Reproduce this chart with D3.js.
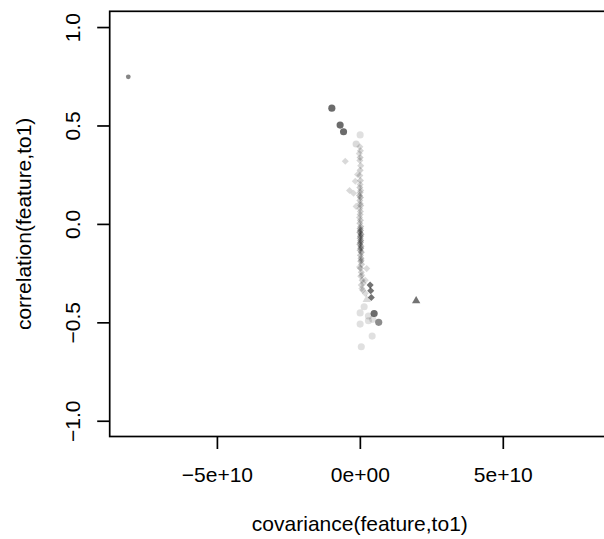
<!DOCTYPE html>
<html>
<head>
<meta charset="utf-8">
<script src="https://cdn.jsdelivr.net/npm/d3@7"></script>
<style>
  html, body { margin: 0; padding: 0; background: #fff; }
  svg { display: block; }
  text { font-family: "Liberation Sans", Arial, Helvetica, sans-serif; }
</style>
</head>
<body>
<svg id="chart" width="604" height="539"></svg>
<script>
// ---- data (covariance in raw units, correlation) ----
const covariance = [
  // column of diamonds
  0.00e10, 0.02e10, -0.02e10, 0.01e10, 0.00e10, 0.03e10, 0.01e10, 0.00e10, 0.02e10, 0.01e10,
  0.00e10, 0.03e10, 0.01e10, -0.01e10, 0.02e10, 0.00e10, 0.01e10, 0.03e10, 0.00e10, 0.02e10,
  0.01e10, -0.01e10, 0.02e10, 0.00e10, 0.03e10, 0.01e10, 0.02e10, 0.00e10, 0.04e10, 0.02e10,
  0.01e10, 0.03e10, 0.02e10, 0.00e10, 0.04e10, 0.03e10, 0.01e10, 0.05e10, 0.02e10, 0.04e10,
  0.03e10, 0.06e10, 0.02e10, 0.05e10, 0.03e10, 0.08e10, 0.05e10, 0.10e10,
  // scattered light diamonds
  -0.51e10, -0.08e10, -0.16e10, -0.36e10, -0.22e10, -0.13e10,
  0.24e10, 0.07e10, 0.19e10, 0.07e10, 0.19e10, -0.01e10, 0.05e10, 0.12e10,
  // light circles
  0.01e10, -0.13e10, 0.15e10, 0.01e10, 0.30e10, 0.01e10, 0.30e10, 0.45e10, 0.43e10, 0.05e10,
  // light triangle
  0.24e10,
  // dark diamonds
  0.36e10, 0.38e10, 0.40e10,
  // dark triangle
  1.97e10,
  // dark circles
  -0.98e10, -0.69e10, -0.57e10, 0.50e10, 0.66e10,
  // small outlier dot
  -8.10e10
];
const correlation = [
  0.392, 0.372, 0.357, 0.337, 0.322, 0.296, 0.272, 0.246, 0.220, 0.200,
  0.185, 0.170, 0.159, 0.144, 0.134, 0.119, 0.104, 0.094, 0.078, 0.063,
  0.048, 0.033, 0.018, 0.003, -0.013, -0.023, -0.033, -0.043, -0.053, -0.063,
  -0.073, -0.084, -0.094, -0.104, -0.114, -0.124, -0.134, -0.144, -0.159, -0.175,
  -0.190, -0.205, -0.225, -0.246, -0.266, -0.286, -0.311, -0.337,
  0.318, 0.251, 0.217, 0.170, 0.156, 0.089,
  -0.227, -0.261, -0.286, -0.328, -0.353, -0.219, -0.185, -0.301,
  0.452, 0.406, -0.421, -0.452, -0.468, -0.509, -0.492, -0.485, -0.570, -0.624,
  -0.384,
  -0.311, -0.340, -0.374,
  -0.391,
  0.588, 0.502, 0.468, -0.455, -0.500,
  0.747
];
const group = [
  "D","D","D","D","D","D","D","D","D","D",
  "D","D","D","D","D","D","D","D","D","D",
  "D","D","D","D","D","D","D","D","D","D",
  "D","D","D","D","D","D","D","D","D","D",
  "D","D","D","D","D","D","D","D",
  "D","D","D","D","D","D",
  "D","D","D","D","D","D","D","D",
  "C","C","C","C","C","C","C","C","C","C",
  "T",
  "D","D","D",
  "T",
  "C","C","C","C","C",
  "P"
];
const weight = [
  0.15, 0.16, 0.14, 0.20, 0.16, 0.16, 0.18, 0.16, 0.18, 0.16,
  0.20, 0.16, 0.18, 0.22, 0.24, 0.18, 0.16, 0.20, 0.16, 0.18,
  0.18, 0.16, 0.20, 0.20, 0.22, 0.26, 0.30, 0.32, 0.30, 0.32,
  0.28, 0.32, 0.30, 0.28, 0.26, 0.32, 0.24, 0.28, 0.22, 0.24,
  0.22, 0.18, 0.20, 0.18, 0.16, 0.18, 0.16, 0.16,
  0.15, 0.14, 0.14, 0.15, 0.14, 0.14,
  0.14, 0.14, 0.14, 0.14, 0.14, 0.14, 0.14, 0.14,
  0.12, 0.14, 0.12, 0.12, 0.12, 0.12, 0.12, 0.12, 0.12, 0.12,
  0.14,
  0.55, 0.55, 0.55,
  0.55,
  0.58, 0.58, 0.58, 0.58, 0.45,
  0.48
];
const xTicks = [-5e10, 0, 5e10];
const xTickLabels = ["\u22125e+10", "0e+00", "5e+10"];
const yTicks = [-1, -0.5, 0, 0.5, 1];
const yTickLabels = ["\u22121.0", "\u22120.5", "0.0", "0.5", "1.0"];
const xTitle = "covariance(feature,to1)";
const yTitle = "correlation(feature,to1)";

// ---- drawing ----
(function () {
const svg = d3.select("#chart");
const pLeft = 109.7, pRight = 610, pTop = 11.3, pBottom = 436.5;
const fontSize = 21;

const x = d3.scaleLinear().domain([-8.75e10, 8.75e10]).range([pLeft, pRight]);
const y = d3.scaleLinear().domain([-1.08, 1.08]).range([pBottom, pTop]);

const shape = d3.scaleOrdinal()
  .domain(["C", "D", "T", "P"])
  .range([d3.symbolCircle, d3.symbolDiamond2, d3.symbolTriangle, d3.symbolCircle]);
const size = d3.scaleOrdinal()
  .domain(["C", "D", "T", "P"])
  .range([40, 32, 30, 18]);
const opacity = d3.scaleLinear().domain([0, 1]).range([0, 1]);

const points = covariance.map((c, i) => ({ c, r: correlation[i], g: group[i], w: weight[i] }));

svg.append("g")
  .selectAll("path")
  .data(points)
  .join("path")
  .attr("transform", d => `translate(${x(d.c)},${y(d.r)})`)
  .attr("d", d => d3.symbol().type(shape(d.g)).size(size(d.g))())
  .attr("fill", "#000")
  .attr("fill-opacity", d => opacity(d.w));

// box
svg.append("rect")
  .attr("x", pLeft).attr("y", pTop)
  .attr("width", pRight - pLeft).attr("height", pBottom - pTop)
  .attr("fill", "none").attr("stroke", "#000").attr("stroke-width", 1.7);

// x axis
const gx = svg.append("g")
  .attr("transform", `translate(0,${pBottom})`)
  .call(d3.axisBottom(x).tickValues(xTicks)
    .tickFormat((d, i) => xTickLabels[i]).tickSize(12.5));
gx.select(".domain").remove();
gx.selectAll(".tick line").attr("stroke", "#000").attr("stroke-width", 1.7);
gx.selectAll(".tick text")
  .attr("y", 482 - pBottom).attr("dy", 0)
  .attr("font-size", fontSize).attr("fill", "#000")
  .attr("font-family", "Liberation Sans, Arial, sans-serif");

// y axis
const gy = svg.append("g")
  .attr("transform", `translate(${pLeft},0)`)
  .call(d3.axisLeft(y).tickValues(yTicks)
    .tickFormat((d, i) => yTickLabels[i]).tickSize(12.5));
gy.select(".domain").remove();
gy.selectAll(".tick line").attr("stroke", "#000").attr("stroke-width", 1.7);
gy.selectAll(".tick text")
  .attr("transform", "rotate(-90)")
  .attr("x", 0).attr("y", 80 - pLeft).attr("dy", 0)
  .attr("text-anchor", "middle")
  .attr("font-size", fontSize).attr("fill", "#000")
  .attr("font-family", "Liberation Sans, Arial, sans-serif");

// titles
svg.append("text")
  .attr("x", (pLeft + pRight) / 2).attr("y", 530.5)
  .attr("text-anchor", "middle").attr("font-size", fontSize)
  .text(xTitle);
svg.append("text")
  .attr("transform", `translate(30.5,${(pTop + pBottom) / 2}) rotate(-90)`)
  .attr("text-anchor", "middle").attr("font-size", fontSize)
  .text(yTitle);
})();
</script>
</body>
</html>
